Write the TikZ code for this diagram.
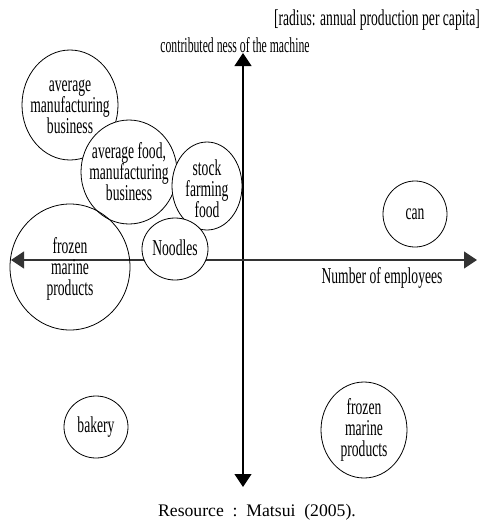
\documentclass[tikz,border=0pt]{standalone}
\usepackage{fontspec}
\setmainfont{Liberation Serif}
\newfontfamily\condfont[FakeStretch=0.6]{Liberation Serif}
\newfontfamily\narrowfont[FakeStretch=0.55]{Liberation Serif}
\usetikzlibrary{arrows.meta}
\begin{document}
\begin{tikzpicture}[x=0.75pt,y=-0.75pt,
  lbl/.style={font=\condfont\fontsize{17pt}{15.75pt}\selectfont,align=center,inner sep=0pt},
  ring/.style={draw,fill=white,line width=0.6pt},
  axis/.style={line width=0.8pt,{Triangle[length=9.75pt,width=12.75pt]}-{Triangle[length=9.75pt,width=12.75pt]}}]
\useasboundingbox (0,0) rectangle (482,522);
% axes
\coordinate (top) at (243,53);
\coordinate (bottom) at (243,487);
\coordinate (left) at (11,260);
\coordinate (right) at (477,260);
\draw[axis] (bottom) -- (top);
\draw[axis,draw=black!80] (left) -- (right);
% bubbles
\path[ring] (70,105) ellipse [x radius=48, y radius=55];
\node[lbl] (avgman) at (70,107) {average\\manufacturing\\business};
\path[ring] (129,172) ellipse [x radius=48, y radius=52];
\node[lbl] (avgfood) at (129,172) {average food,\\manufacturing\\business};
\path[ring] (207,186) ellipse [x radius=35, y radius=44];
\node[lbl] (stock) at (207,189) {stock\\farming\\food};
\path[ring] (175,249) ellipse [x radius=33, y radius=31];
\node[lbl] (noodles) at (175,248) {Noodles};
\draw[line width=0.6pt] (70,267) ellipse [x radius=60, y radius=63];
\node[lbl] (frozenL) at (70,269) {frozen\\marine\\products};
\draw[line width=0.6pt] (415,214) ellipse [x radius=32, y radius=33];
\node[lbl] (can) at (415,214) {can};
\draw[line width=0.6pt] (96,427) ellipse [x radius=32, y radius=31];
\node[lbl] (bakery) at (96,427) {bakery};
\draw[line width=0.6pt] (364,430) ellipse [x radius=43, y radius=48];
\node[lbl] (frozenR) at (364,430) {frozen\\marine\\products};
% labels
\node[lbl] (radius) at (377,20) {[radius: annual production per capita]};
\node[lbl,font=\narrowfont\fontsize{16pt}{15pt}\selectfont] (ylabel) at (235,45) {contributed ness of the machine};
\node[lbl] (xlabel) at (382,278) {Number of employees};
\node[inner sep=0pt,font=\fontsize{13.25pt}{15pt}\selectfont] (source) at (257,512) {Resource\ \ :\ \ Matsui\ \ (2005).};
\end{tikzpicture}
\end{document}
